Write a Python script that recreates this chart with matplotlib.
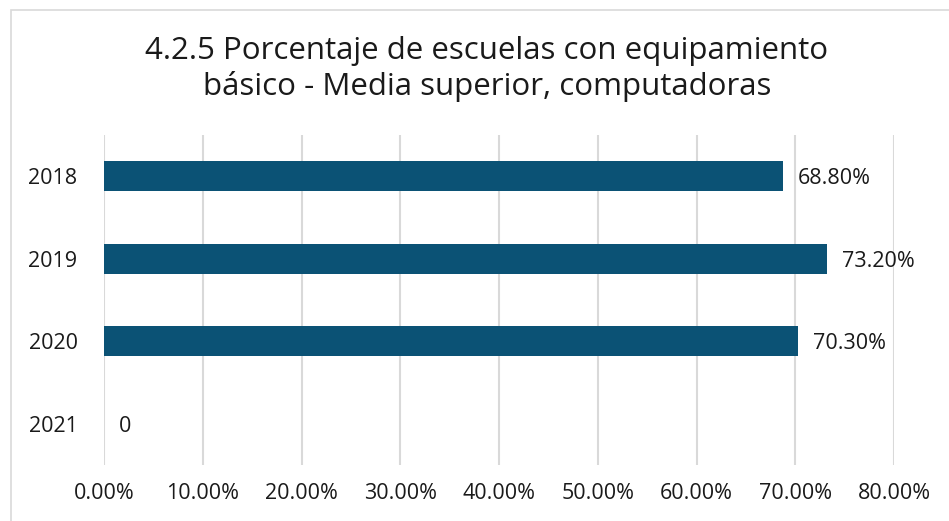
import matplotlib.pyplot as plt
from matplotlib.patches import Rectangle

# Data
years = ["2018", "2019", "2020", "2021"]
values = [68.8, 73.2, 70.3, 0]
labels = ["68.80%", "73.20%", "70.30%", "0"]
xticks = [0, 10, 20, 30, 40, 50, 60, 70, 80]

bar_color = "#0B5275"
text_color = "#1a1a1a"
plt.rcParams['font.family'] = ['Open Sans', 'DejaVu Sans']

fig = plt.figure(figsize=(9.49, 5.21), dpi=100)
ax = fig.add_axes([104 / 949, 56 / 521, 790 / 949, (465 - 135) / 521])

# light frame around the chart area
fig.patches.append(Rectangle((11 / 949, -0.1), 1.2, (521 - 10) / 521 + 0.1,
                             transform=fig.transFigure, fill=False,
                             edgecolor="#d9d9d9", linewidth=1.2))

pos = list(range(len(years)))
ax.barh(pos, values, height=0.36, color=bar_color, zorder=3)
for p, v, lab in zip(pos, values, labels):
    ax.text(v + 1.5, p + 0.03, lab, va="center", ha="left", fontsize=15.5,
            color=text_color)

ax.set_yticks(pos)
ax.set_yticklabels(years, fontsize=15.5)
ax.set_ylim(len(years) - 0.5, -0.5)
ax.set_xlim(0, 80)
ax.set_xticks(xticks)
ax.set_xticklabels([f"{t:.2f}%" for t in xticks], fontsize=15.5)
ax.tick_params(length=0, colors=text_color)
ax.tick_params(axis="x", pad=13)
ax.tick_params(axis="y", pad=19)
ax.grid(axis="x", color="#d9d9d9", linewidth=1.5, zorder=0)
for s in ax.spines.values():
    s.set_visible(False)

fig.text(487 / 949, 1 - 69 / 521, "4.2.5 Porcentaje de escuelas con equipamiento\nbásico - Media superior, computadoras",
         ha="center", va="center", fontsize=22.5, color=text_color, linespacing=1.25)

fig.savefig("out.png", dpi=100)
